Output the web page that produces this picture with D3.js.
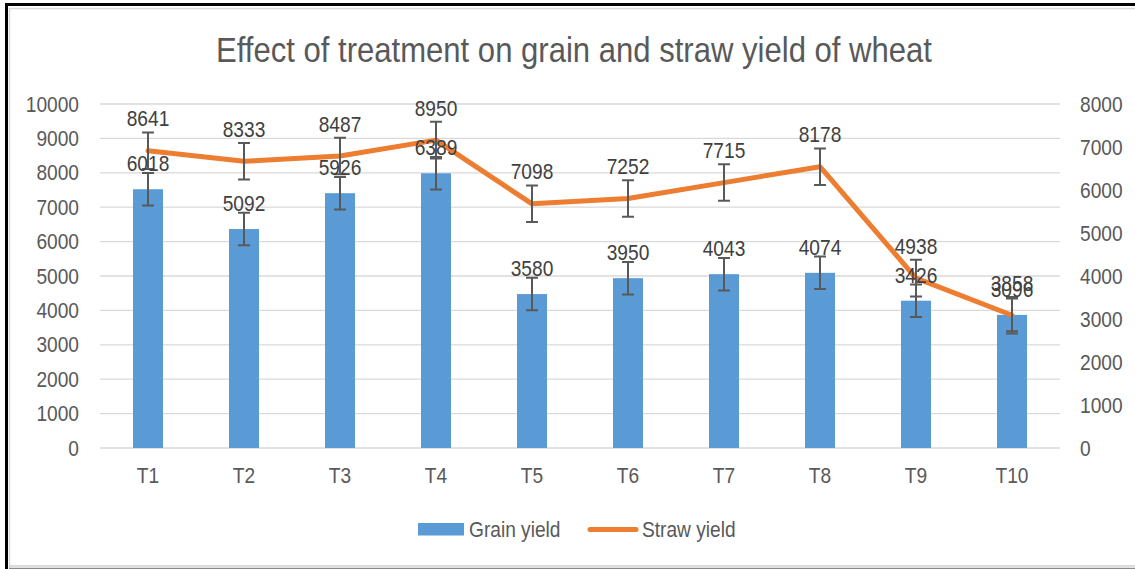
<!DOCTYPE html>
<html>
<head>
<meta charset="utf-8">
<script src="https://cdn.jsdelivr.net/npm/d3@7"></script>
<style>
  body { margin: 0; background: #fff; }
  svg text { font-family: "Liberation Sans", Arial, sans-serif; }
</style>
</head>
<body>
<div id="chart"></div>
<script>
// chart values
var categories = ["T1", "T2", "T3", "T4", "T5", "T6", "T7", "T8", "T9", "T10"];
var grainYield = [6018, 5092, 5926, 6389, 3580, 3950, 4043, 4074, 3426, 3096];
var strawYield = [8641, 8333, 8487, 8950, 7098, 7252, 7715, 8178, 4938, 3858];
var grainError = [378, 378, 378, 378, 378, 378, 378, 378, 378, 378];
var strawError = [531, 531, 531, 531, 531, 531, 531, 531, 531, 531];
var leftTicks  = [0, 1000, 2000, 3000, 4000, 5000, 6000, 7000, 8000, 9000, 10000];
var rightTicks = [0, 1000, 2000, 3000, 4000, 5000, 6000, 7000, 8000];

var W = 1135, H = 569;
var plot = {left: 100, right: 1060, top: 104, bottom: 448};
var squeeze = 0.87; // narrow the glyphs a bit, the original font is a condensed one

var svg = d3.select("#chart").append("svg")
	.attr("width", W)
	.attr("height", H);

// frame
svg.append("line").attr("x1", 5).attr("x2", W).attr("y1", 4.5).attr("y2", 4.5)
	.attr("stroke", "#000").attr("stroke-width", 3);
svg.append("line").attr("x1", 6.5).attr("x2", 6.5).attr("y1", 3).attr("y2", H)
	.attr("stroke", "#000").attr("stroke-width", 3);
svg.append("path").attr("d", "M9.5," + H + "V8.5H" + W)
	.attr("fill", "none").attr("stroke", "#d9d9d9").attr("stroke-width", 1.5);
svg.append("line").attr("x1", 9).attr("x2", W).attr("y1", 566).attr("y2", 566)
	.attr("stroke", "#d0d0d0").attr("stroke-width", 1.5);
svg.append("line").attr("x1", 9).attr("x2", W).attr("y1", 568.5).attr("y2", 568.5)
	.attr("stroke", "#8a8a8a").attr("stroke-width", 1.5);

var x = d3.scaleBand().domain(categories).range([plot.left, plot.right]);
var yLeft = d3.scaleLinear().domain([0, 10000]).range([plot.bottom, plot.top]);
var yRight = d3.scaleLinear().domain([0, 8000]).range([plot.bottom, plot.top]);

// gridlines
svg.append("g")
	.selectAll("line")
	.data(leftTicks)
	.join("line")
		.attr("x1", plot.left).attr("x2", plot.right)
		.attr("y1", function(d) { return yLeft(d); })
		.attr("y2", function(d) { return yLeft(d); })
		.attr("stroke", "#d9d9d9")
		.attr("stroke-width", 1.3);

// axes
var fmt = d3.format("d");
var axisLeft = svg.append("g")
	.attr("transform", "translate(" + plot.left + ",0)")
	.call(d3.axisLeft(yLeft).tickValues(leftTicks).tickFormat(fmt).tickSize(0).tickPadding(21));
var axisRight = svg.append("g")
	.attr("transform", "translate(" + plot.right + ",0)")
	.call(d3.axisRight(yRight).tickValues(rightTicks).tickFormat(fmt).tickSize(0).tickPadding(20));
var axisBottom = svg.append("g")
	.attr("transform", "translate(0," + plot.bottom + ")")
	.call(d3.axisBottom(x).tickSize(0).tickPadding(19));

[axisLeft, axisRight, axisBottom].forEach(function(g) {
	g.select(".domain").remove();
	g.attr("font-family", null);
	g.selectAll("text")
		.attr("fill", "#595959")
		.attr("font-size", 22);
});

// bars (secondary axis)
var barW = 30;
svg.append("g")
	.selectAll("rect")
	.data(grainYield)
	.join("rect")
		.attr("x", function(d, i) { return x(categories[i]) + x.bandwidth() / 2 - barW / 2; })
		.attr("y", function(d) { return yRight(d); })
		.attr("width", barW)
		.attr("height", function(d) { return yRight(0) - yRight(d); })
		.attr("fill", "#5b9bd5");

// straw line (primary axis)
var line = d3.line()
	.x(function(d, i) { return x(categories[i]) + x.bandwidth() / 2; })
	.y(function(d) { return yLeft(d); });

svg.append("path")
	.datum(strawYield)
	.attr("d", line)
	.attr("fill", "none")
	.attr("stroke", "#ed7d31")
	.attr("stroke-width", 5)
	.attr("stroke-linejoin", "round")
	.attr("stroke-linecap", "round");

// error bars
function drawErrors(values, errors, scale) {
	var g = svg.append("g")
		.attr("stroke", "#595959")
		.attr("stroke-width", 2)
		.attr("fill", "none");
	values.forEach(function(v, i) {
		var cx = x(categories[i]) + x.bandwidth() / 2;
		var hi = scale(v + errors[i]), lo = scale(v - errors[i]);
		g.append("path")
			.attr("d", "M" + cx + "," + hi + "V" + lo +
				"M" + (cx - 6) + "," + hi + "H" + (cx + 6) +
				"M" + (cx - 6) + "," + lo + "H" + (cx + 6));
	});
}
drawErrors(grainYield, grainError, yRight);
drawErrors(strawYield, strawError, yLeft);

// data labels
function drawLabels(values, scale, offset) {
	svg.append("g")
		.selectAll("text")
		.data(values)
		.join("text")
			.attr("x", function(d, i) { return x(categories[i]) + x.bandwidth() / 2; })
			.attr("y", function(d) { return scale(d) - offset; })
			.attr("text-anchor", "middle")
			.attr("fill", "#404040")
			.attr("font-size", 22)
			.text(function(d) { return d; });
}
drawLabels(grainYield, yRight, 18);
drawLabels(strawYield, yLeft, 24.5);

// legend
var legend = svg.append("g");
legend.append("rect")
	.attr("x", 418).attr("y", 523)
	.attr("width", 46).attr("height", 12.5)
	.attr("fill", "#5b9bd5");
legend.append("text")
	.attr("x", 469).attr("y", 537)
	.attr("fill", "#595959").attr("font-size", 22)
	.text("Grain yield");
legend.append("line")
	.attr("x1", 590).attr("x2", 636)
	.attr("y1", 529.5).attr("y2", 529.5)
	.attr("stroke", "#ed7d31").attr("stroke-width", 5)
	.attr("stroke-linecap", "round");
legend.append("text")
	.attr("x", 642).attr("y", 537)
	.attr("fill", "#595959").attr("font-size", 22)
	.text("Straw yield");

// condense all texts
svg.selectAll("text").each(function() {
	var w = this.getComputedTextLength();
	d3.select(this)
		.attr("textLength", w * squeeze)
		.attr("lengthAdjust", "spacingAndGlyphs");
});

// title
svg.append("text")
	.attr("x", 574).attr("y", 62)
	.attr("text-anchor", "middle")
	.attr("fill", "#595959")
	.attr("font-size", 35)
	.attr("textLength", 716)
	.attr("lengthAdjust", "spacingAndGlyphs")
	.text("Effect of treatment on grain and straw yield of wheat");
</script>
</body>
</html>
